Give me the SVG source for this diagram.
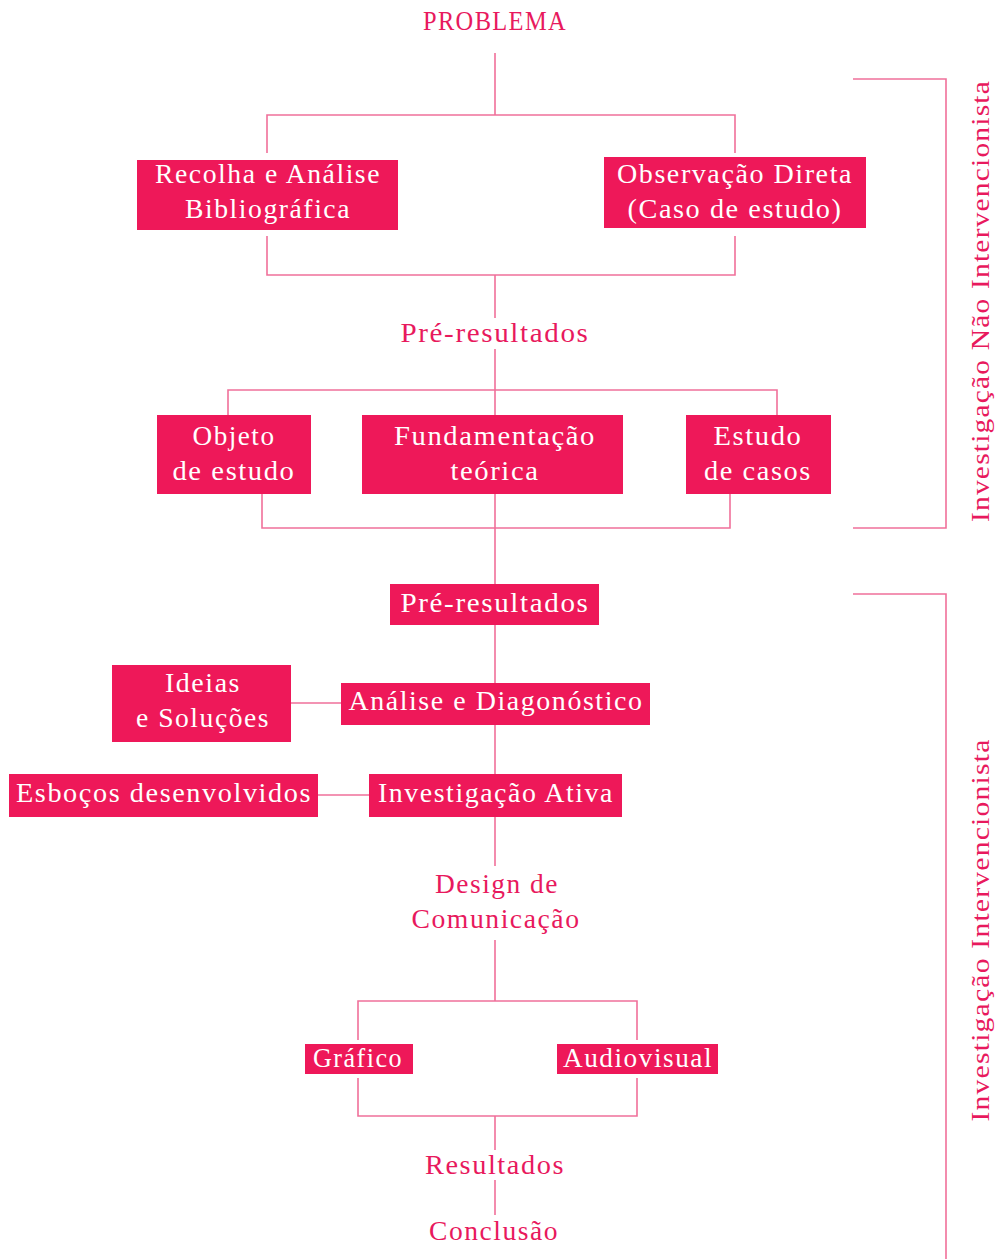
<svg xmlns="http://www.w3.org/2000/svg" width="998" height="1259" viewBox="0 0 998 1259">
<style>
.bg{fill:#ffffff}
.box{fill:#EE1859}
.ln{stroke:#F0709A;stroke-width:1.6;fill:none}
.t{font-family:"Liberation Serif","DejaVu Serif",serif;font-size:27px;letter-spacing:1.5px;text-anchor:middle}
.w{fill:#ffffff}
.p{fill:#E8195D}
.r{font-family:"Liberation Serif","DejaVu Serif",serif;font-size:25px;letter-spacing:1px;text-anchor:middle;fill:#E8195D}
</style>
<rect class="bg" x="0" y="0" width="998" height="1259"/>
<g id="connectors">
<path class="ln" d="M495 53V115M267 153V115H735V153"/>
<path class="ln" d="M267 236V275H735V236M495 275V318"/>
<path class="ln" d="M495 349V415M228 415V390H777V415"/>
<path class="ln" d="M262 494V528H730V494M495 494V584"/>
<path class="ln" d="M495 625V683M291 703H341M495 725V774M318 795H369M495 817V866"/>
<path class="ln" d="M495 940V1001M358 1040V1001H637V1040"/>
<path class="ln" d="M358 1078V1116H637V1078M495 1116V1150M495 1180V1215"/>
<path class="ln" d="M853 79H946V528H853"/>
<path class="ln" d="M853 594H946V1259"/>
</g>
<g id="problema"><text class="t p" x="495" y="30" textLength="144" lengthAdjust="spacingAndGlyphs">PROBLEMA</text></g>
<g id="recolha">
<rect class="box" x="137" y="160" width="261" height="70"/>
<text class="t w" x="268" y="183" textLength="226" lengthAdjust="spacingAndGlyphs">Recolha e Análise</text>
<text class="t w" x="268" y="218" textLength="166" lengthAdjust="spacingAndGlyphs">Bibliográfica</text>
</g>
<g id="observacao">
<rect class="box" x="604" y="157" width="262" height="71"/>
<text class="t w" x="735" y="183" textLength="236" lengthAdjust="spacingAndGlyphs">Observação Direta</text>
<text class="t w" x="735" y="218" textLength="215" lengthAdjust="spacingAndGlyphs">(Caso de estudo)</text>
</g>
<g id="pre1"><text class="t p" x="495" y="342" textLength="189" lengthAdjust="spacingAndGlyphs">Pré-resultados</text></g>
<g id="objeto">
<rect class="box" x="157" y="415" width="154" height="79"/>
<text class="t w" x="234" y="445" textLength="83" lengthAdjust="spacingAndGlyphs">Objeto</text>
<text class="t w" x="234" y="480" textLength="123" lengthAdjust="spacingAndGlyphs">de estudo</text>
</g>
<g id="fundamentacao">
<rect class="box" x="362" y="415" width="261" height="79"/>
<text class="t w" x="495" y="445" textLength="202" lengthAdjust="spacingAndGlyphs">Fundamentação</text>
<text class="t w" x="495" y="480" textLength="89" lengthAdjust="spacingAndGlyphs">teórica</text>
</g>
<g id="estudo">
<rect class="box" x="686" y="415" width="145" height="79"/>
<text class="t w" x="758" y="445" textLength="89" lengthAdjust="spacingAndGlyphs">Estudo</text>
<text class="t w" x="758" y="480" textLength="108" lengthAdjust="spacingAndGlyphs">de casos</text>
</g>
<g id="pre2">
<rect class="box" x="390" y="584" width="209" height="41"/>
<text class="t w" x="495" y="612" textLength="189" lengthAdjust="spacingAndGlyphs">Pré-resultados</text>
</g>
<g id="ideias">
<rect class="box" x="112" y="665" width="179" height="77"/>
<text class="t w" x="203" y="692" textLength="76" lengthAdjust="spacingAndGlyphs">Ideias</text>
<text class="t w" x="203" y="727" textLength="134" lengthAdjust="spacingAndGlyphs">e Soluções</text>
</g>
<g id="analise">
<rect class="box" x="341" y="683" width="309" height="42"/>
<text class="t w" x="496" y="710" textLength="295" lengthAdjust="spacingAndGlyphs">Análise e Diagonóstico</text>
</g>
<g id="esbocos">
<rect class="box" x="9" y="774" width="309" height="43"/>
<text class="t w" x="164" y="802" textLength="296" lengthAdjust="spacingAndGlyphs">Esboços desenvolvidos</text>
</g>
<g id="investigacao">
<rect class="box" x="369" y="774" width="253" height="43"/>
<text class="t w" x="496" y="802" textLength="236" lengthAdjust="spacingAndGlyphs">Investigação Ativa</text>
</g>
<g id="design">
<text class="t p" x="497" y="893" textLength="124" lengthAdjust="spacingAndGlyphs">Design de</text>
<text class="t p" x="496" y="928" textLength="169" lengthAdjust="spacingAndGlyphs">Comunicação</text>
</g>
<g id="grafico">
<rect class="box" x="305" y="1044" width="108" height="30"/>
<text class="t w" x="358" y="1067" textLength="90" lengthAdjust="spacingAndGlyphs">Gráfico</text>
</g>
<g id="audiovisual">
<rect class="box" x="557" y="1044" width="161" height="30"/>
<text class="t w" x="638" y="1067" textLength="150" lengthAdjust="spacingAndGlyphs">Audiovisual</text>
</g>
<g id="resultados"><text class="t p" x="495" y="1174" textLength="140" lengthAdjust="spacingAndGlyphs">Resultados</text></g>
<g id="conclusao"><text class="t p" x="494" y="1240" textLength="130" lengthAdjust="spacingAndGlyphs">Conclusão</text></g>
<g id="label-nao"><text class="r" transform="translate(989,301) rotate(-90)" textLength="442" lengthAdjust="spacingAndGlyphs">Investigação Não Intervencionista</text></g>
<g id="label-int"><text class="r" transform="translate(989,930) rotate(-90)" textLength="383" lengthAdjust="spacingAndGlyphs">Investigação Intervencionista</text></g>
</svg>
